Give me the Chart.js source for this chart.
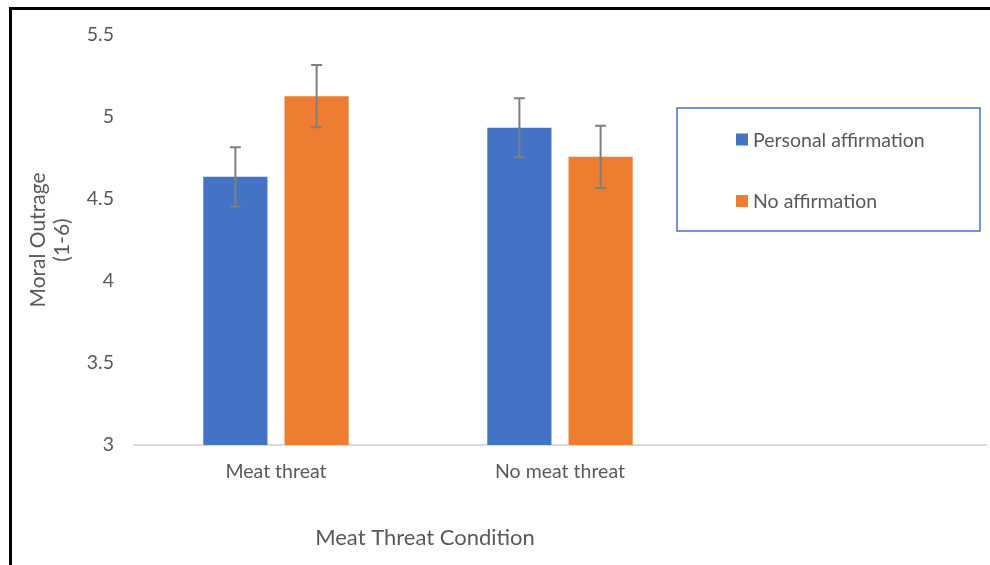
<!DOCTYPE html>
<html>
<head>
<meta charset="utf-8">
<script src="https://cdn.jsdelivr.net/npm/chart.js@4.4.1/dist/chart.umd.min.js"></script>
<style>
  html, body { margin: 0; padding: 0; background: #ffffff; overflow: hidden; }
  #wrap { position: relative; width: 990px; height: 565px; }
  #frame { position: absolute; left: 9px; top: 7px; width: 1100px; height: 700px;
           border-top: 3px solid #000; border-left: 3px solid #000; pointer-events: none; }
  canvas { position: absolute; left: 0; top: 0; }
</style>
</head>
<body>
<div id="wrap">
  <canvas id="c" width="990" height="565"></canvas>
  <div id="frame"></div>
</div>
<script>
// ---- data ----
const categories = ['Meat threat', 'No meat threat', ''];
const seriesNames = ['Personal affirmation', 'No affirmation'];
const personalValues = [4.635, 4.935];
const noAffirmationValues = [5.127, 4.757];
const personalErrors = [0.18, 0.18];
const noAffirmationErrors = [0.19, 0.19];
const yTicks = [3, 3.5, 4, 4.5, 5, 5.5];
const yTickLabels = ['3', '3.5', '4', '4.5', '5', '5.5'];
const yAxisTitle = ['Moral Outrage', '(1-6)'];
const xAxisTitle = 'Meat Threat Condition';

const BLUE = '#4472C4';
const ORANGE = '#ED7D31';
const TEXT = '#595959';
const FONT = 'Lato';

const errorBarPlugin = {
  id: 'errorBars',
  afterDatasetsDraw(chart) {
    const ctx = chart.ctx;
    const yScale = chart.scales.y;
    chart.data.datasets.forEach((ds, i) => {
      const meta = chart.getDatasetMeta(i);
      meta.data.forEach((el, j) => {
        const v = ds.data[j];
        const e = ds.errors[j];
        if (v == null || e == null) return;
        const x = el.x;
        const yT = yScale.getPixelForValue(v + e);
        const yB = yScale.getPixelForValue(v - e);
        ctx.save();
        ctx.strokeStyle = '#7F7F7F';
        ctx.lineWidth = 2;
        ctx.beginPath();
        ctx.moveTo(x, yT); ctx.lineTo(x, yB);
        ctx.moveTo(x - 5.5, yT); ctx.lineTo(x + 5.5, yT);
        ctx.moveTo(x - 5.5, yB); ctx.lineTo(x + 5.5, yB);
        ctx.stroke();
        ctx.restore();
      });
    });
  }
};

const legendPlugin = {
  id: 'boxLegend',
  afterDraw(chart) {
    const ctx = chart.ctx;
    ctx.save();
    ctx.strokeStyle = BLUE;
    ctx.lineWidth = 1.5;
    ctx.strokeRect(677, 108, 303, 123);
    ctx.font = '19.5px ' + FONT;
    ctx.textBaseline = 'middle';
    ctx.textAlign = 'left';
    const rows = [139.5, 201];
    chart.data.datasets.forEach((ds, i) => {
      const y = rows[i];
      ctx.fillStyle = ds.backgroundColor;
      ctx.fillRect(736, y - 6, 12, 12);
      ctx.fillStyle = TEXT;
      ctx.fillText(ds.label, 753, y + 1);
    });
    ctx.font = '22px ' + FONT;
    ctx.textAlign = 'center';
    ctx.fillStyle = TEXT;
    ctx.fillText(xAxisTitle, 425, 538);
    ctx.restore();
  }
};

new Chart(document.getElementById('c'), {
  type: 'bar',
  data: {
    labels: categories,
    datasets: [
      { label: seriesNames[0], data: personalValues, errors: personalErrors,
        backgroundColor: BLUE, borderWidth: 0 },
      { label: seriesNames[1], data: noAffirmationValues, errors: noAffirmationErrors,
        backgroundColor: ORANGE, borderWidth: 0 }
    ]
  },
  options: {
    responsive: false,
    animation: false,
    devicePixelRatio: 1,
    layout: { padding: { left: 0, right: 4, top: 35, bottom: 0 } },
    categoryPercentage: 0.572,
    barPercentage: 0.79,
    plugins: { legend: { display: false }, tooltip: { enabled: false } },
    scales: {
      x: {
        grid: { display: false, drawTicks: false },
        border: { display: true, color: '#D9D9D9', width: 2 },
        ticks: { color: TEXT, font: { family: FONT, size: 19.5 }, padding: 15, maxRotation: 0 },
        afterFit(scale) { scale.height = 120; }
      },
      y: {
        min: 3, max: 5.5,
        afterBuildTicks(scale) { scale.ticks = yTicks.map(v => ({ value: v })); },
        grid: { display: false, drawTicks: false },
        border: { display: false },
        ticks: { color: TEXT, font: { family: FONT, size: 19.5 }, padding: 20,
                 callback: (v) => yTickLabels[yTicks.indexOf(v)] },
        title: { display: true, text: yAxisTitle, color: TEXT,
                 font: { family: FONT, size: 21, lineHeight: 1.15 }, padding: { top: 26, bottom: 0 } },
        afterFit(scale) { scale.width = 134; }
      }
    }
  },
  plugins: [errorBarPlugin, legendPlugin]
});
</script>
</body>
</html>
